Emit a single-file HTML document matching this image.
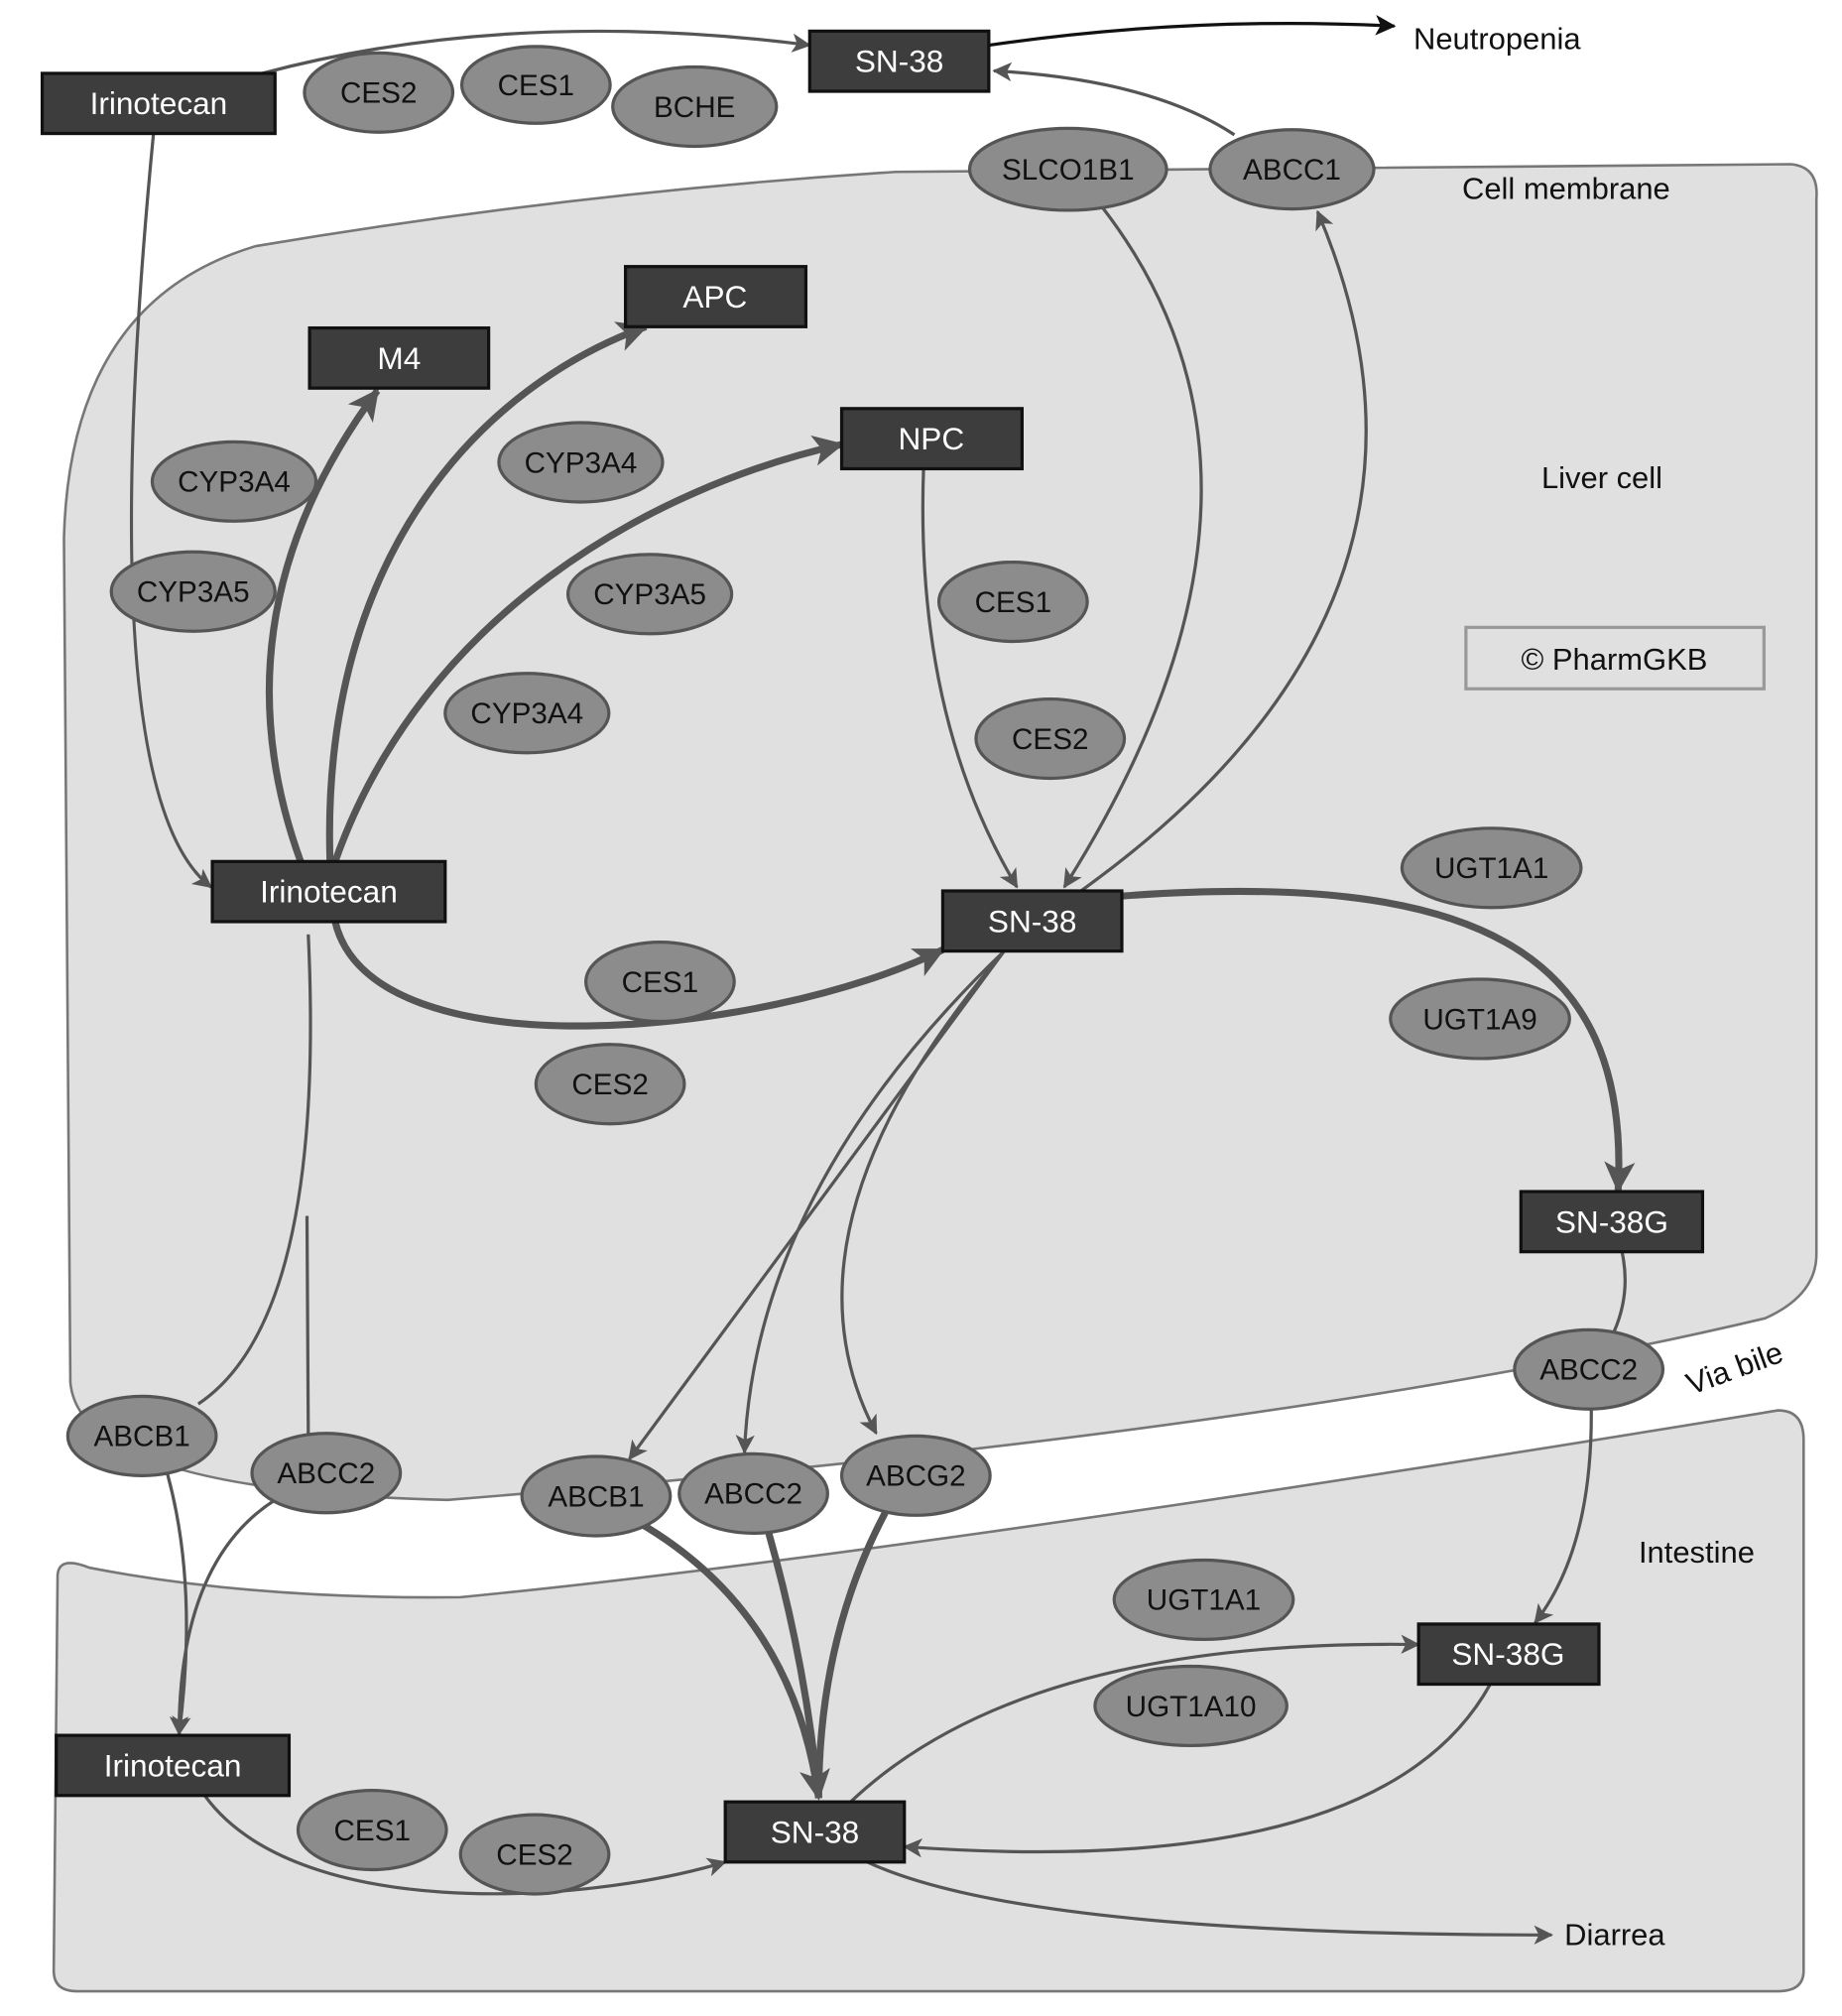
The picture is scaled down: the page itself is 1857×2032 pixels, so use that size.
<!DOCTYPE html>
<html><head><meta charset="utf-8"><style>
html,body{margin:0;padding:0;background:#fff}
svg{display:block}
text{font-family:"Liberation Sans",sans-serif}
.b rect{fill:#3d3d3d;stroke:#111;stroke-width:2.5}
.b text{fill:#fff;font-size:24.5px;text-anchor:middle}
.e ellipse{fill:#8c8c8c;stroke:#555;stroke-width:2.5}
.e text{fill:#111;font-size:23px;text-anchor:middle}
.c{fill:none;stroke:#555;stroke-width:2.5}
.t{fill:none;stroke:#555;stroke-width:5.5}
.l{font-size:24px;fill:#111}
</style></head><body>
<svg width="1857" height="2032" viewBox="0 0 1440 1575" xmlns="http://www.w3.org/2000/svg">
<defs>
<marker id="a" viewBox="0 0 12 12" refX="11" refY="6" markerWidth="15" markerHeight="15" markerUnits="userSpaceOnUse" orient="auto"><path d="M0,0 L12,6 L0,12 L3,6 Z" fill="#555"/></marker>
<marker id="ak" viewBox="0 0 12 12" refX="11" refY="6" markerWidth="16" markerHeight="16" markerUnits="userSpaceOnUse" orient="auto"><path d="M0,0 L12,6 L0,12 L3,6 Z" fill="#111"/></marker>
<marker id="at" viewBox="0 0 12 12" refX="11" refY="6" markerWidth="4.4" markerHeight="4.4" orient="auto"><path d="M0,0 L12,6 L0,12 L3,6 Z" fill="#555"/></marker>
</defs>
<!-- liver cell -->
<path d="M50 420 Q 55 235 200 192 Q 450 150 700 134 L 1400 128 Q 1422 130 1420 155 L 1420 980 Q 1420 1012 1380 1030 Q 1000 1120 350 1172 Q 62 1165 55 1080 Z" fill="#e0e0e0" stroke="#777" stroke-width="2"/>
<!-- intestine -->
<path d="M45 1232 Q 45 1215 70 1225 Q 200 1250 360 1248 Q 700 1215 1390 1102 Q 1410 1102 1410 1125 L 1410 1540 Q 1410 1556 1390 1556 L 60 1556 Q 42 1556 42 1540 Z" fill="#e0e0e0" stroke="#777" stroke-width="2"/>
<!-- connectors -->
<path class="c" d="M205 57 Q 400 5 633 35" marker-end="url(#a)"/>
<path d="M773 35 Q 930 12 1090 20" fill="none" stroke="#111" stroke-width="2.5" marker-end="url(#ak)"/>
<path class="c" d="M965 105 Q 900 62 777 55" marker-end="url(#a)"/>
<path class="c" d="M120 104 Q 70 620 165 693" marker-end="url(#a)"/>
<path class="c" d="M862 162 Q 1030 380 832 693" marker-end="url(#a)"/>
<path class="c" d="M845 696 Q 1160 470 1030 165" marker-end="url(#a)"/>
<path class="c" d="M722 366 Q 715 560 795 693" marker-end="url(#a)"/>
<path class="t" d="M235 673 Q 165 480 295 305" marker-end="url(#at)"/>
<path class="t" d="M258 673 C 250 430 380 300 505 255" marker-end="url(#at)"/>
<path class="t" d="M262 673 C 330 480 510 380 658 347" marker-end="url(#at)"/>
<path class="t" d="M262 720 C 290 840 600 810 737 742" marker-end="url(#at)"/>
<path class="t" d="M877 700 C 1150 680 1275 740 1265 930" marker-end="url(#at)"/>
<path class="c" d="M785 743 L 492 1140" marker-end="url(#a)"/>
<path class="c" d="M785 743 Q 590 930 582 1135" marker-end="url(#a)"/>
<path class="c" d="M785 743 Q 600 960 685 1120" marker-end="url(#a)"/>
<path class="c" d="M241 730 Q 255 1030 155 1097"/>
<path class="c" d="M240 950 L 241 1120"/>
<path class="c" d="M1268 978 Q 1275 1010 1262 1040"/>
<path class="c" d="M1244 1101 Q 1245 1210 1200 1268" marker-end="url(#a)"/>
<path class="c" d="M131 1152 Q 155 1240 140 1355" marker-end="url(#a)"/>
<path class="c" d="M215 1172 Q 140 1220 140 1355" marker-end="url(#a)"/>
<path class="t" d="M500 1190 Q 620 1260 640 1405" marker-end="url(#at)"/>
<path class="t" d="M601 1198 Q 630 1300 640 1405"/>
<path class="t" d="M692 1182 Q 640 1280 640 1405"/>
<path class="c" d="M160 1403 C 230 1500 450 1490 567 1455" marker-end="url(#a)"/>
<path class="c" d="M665 1408 Q 800 1280 1109 1285" marker-end="url(#a)"/>
<path class="c" d="M1165 1316 Q 1080 1470 707 1443" marker-end="url(#a)"/>
<path class="c" d="M678 1455 Q 800 1512 1213 1512" marker-end="url(#a)"/>
<!-- boxes -->
<g class="b">
<rect x="33" y="57" width="182" height="47"/><text x="124" y="89">Irinotecan</text>
<rect x="633" y="24" width="140" height="47"/><text x="703" y="56">SN-38</text>
<rect x="489" y="208" width="141" height="47"/><text x="559" y="240">APC</text>
<rect x="242" y="256" width="140" height="47"/><text x="312" y="288">M4</text>
<rect x="658" y="319" width="141" height="47"/><text x="728" y="351">NPC</text>
<rect x="166" y="673" width="182" height="47"/><text x="257" y="705">Irinotecan</text>
<rect x="737" y="696" width="140" height="47"/><text x="807" y="728">SN-38</text>
<rect x="1189" y="931" width="142" height="47"/><text x="1260" y="963">SN-38G</text>
<rect x="1109" y="1269" width="141" height="47"/><text x="1179" y="1301">SN-38G</text>
<rect x="44" y="1356" width="182" height="47"/><text x="135" y="1388">Irinotecan</text>
<rect x="567" y="1408" width="140" height="47"/><text x="637" y="1440">SN-38</text>
</g>
<!-- enzymes -->
<g class="e">
<ellipse cx="296" cy="72" rx="58" ry="31"/><text x="296" y="80">CES2</text>
<ellipse cx="419" cy="66" rx="58" ry="30"/><text x="419" y="74">CES1</text>
<ellipse cx="543" cy="83" rx="64" ry="31"/><text x="543" y="91">BCHE</text>
<ellipse cx="835" cy="132" rx="77" ry="32"/><text x="835" y="140">SLCO1B1</text>
<ellipse cx="1010" cy="132" rx="64" ry="31"/><text x="1010" y="140">ABCC1</text>
<ellipse cx="183" cy="376" rx="64" ry="31"/><text x="183" y="384">CYP3A4</text>
<ellipse cx="151" cy="462" rx="64" ry="31"/><text x="151" y="470">CYP3A5</text>
<ellipse cx="454" cy="361" rx="64" ry="31"/><text x="454" y="369">CYP3A4</text>
<ellipse cx="508" cy="464" rx="64" ry="31"/><text x="508" y="472">CYP3A5</text>
<ellipse cx="412" cy="557" rx="64" ry="31"/><text x="412" y="565">CYP3A4</text>
<ellipse cx="792" cy="470" rx="58" ry="31"/><text x="792" y="478">CES1</text>
<ellipse cx="821" cy="577" rx="58" ry="31"/><text x="821" y="585">CES2</text>
<ellipse cx="1166" cy="678" rx="70" ry="31"/><text x="1166" y="686">UGT1A1</text>
<ellipse cx="1157" cy="796" rx="70" ry="31"/><text x="1157" y="804">UGT1A9</text>
<ellipse cx="516" cy="767" rx="58" ry="31"/><text x="516" y="775">CES1</text>
<ellipse cx="477" cy="847" rx="58" ry="31"/><text x="477" y="855">CES2</text>
<ellipse cx="1242" cy="1070" rx="58" ry="31"/><text x="1242" y="1078">ABCC2</text>
<ellipse cx="111" cy="1122" rx="58" ry="31"/><text x="111" y="1130">ABCB1</text>
<ellipse cx="255" cy="1151" rx="58" ry="31"/><text x="255" y="1159">ABCC2</text>
<ellipse cx="466" cy="1169" rx="58" ry="31"/><text x="466" y="1177">ABCB1</text>
<ellipse cx="589" cy="1167" rx="58" ry="31"/><text x="589" y="1175">ABCC2</text>
<ellipse cx="716" cy="1153" rx="58" ry="31"/><text x="716" y="1161">ABCG2</text>
<ellipse cx="941" cy="1250" rx="70" ry="31"/><text x="941" y="1258">UGT1A1</text>
<ellipse cx="931" cy="1333" rx="75" ry="31"/><text x="931" y="1341">UGT1A10</text>
<ellipse cx="291" cy="1430" rx="58" ry="31"/><text x="291" y="1438">CES1</text>
<ellipse cx="418" cy="1449" rx="58" ry="31"/><text x="418" y="1457">CES2</text>
</g>
<!-- labels -->
<text class="l" x="1105" y="38">Neutropenia</text>
<text class="l" x="1143" y="155">Cell membrane</text>
<text class="l" x="1205" y="381">Liver cell</text>
<rect x="1146" y="490" width="233" height="48" fill="none" stroke="#999" stroke-width="2.5"/>
<text class="l" x="1262" y="523" text-anchor="middle">© PharmGKB</text>
<text class="l" x="1281" y="1221">Intestine</text>
<text class="l" x="1322" y="1090" transform="rotate(-20 1322 1090)">Via bile</text>
<text class="l" x="1223" y="1520">Diarrea</text>
</svg>
</body></html>
